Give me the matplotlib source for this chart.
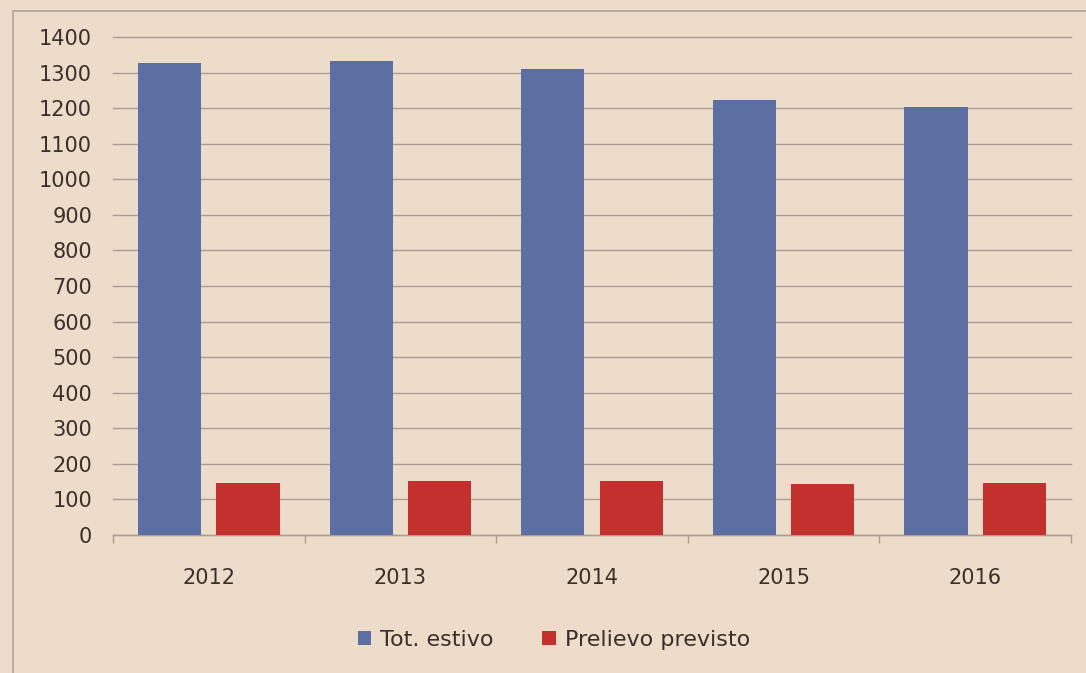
import numpy as np
import matplotlib.pyplot as plt
from matplotlib.patches import Rectangle

# Data
anni = ['2012', '2013', '2014', '2015', '2016']
tot_estivo = [1327, 1332, 1310, 1223, 1203]
prelievo_previsto = [146, 152, 152, 143, 145]

bg = '#ecdcc9'
blu = '#5b6fa2'
rosso = '#c3302d'
testo = '#3b2f2b'
griglia = '#ab9c92'

fig = plt.figure(figsize=(10.86, 6.73), dpi=100, facecolor=bg)
ax = fig.add_axes([113 / 1086, 1 - 535 / 673, (1071 - 113) / 1086, (535 - 37) / 673])
ax.set_facecolor(bg)

# chart border
fig.patches.append(Rectangle((13 / 1086, -0.1), 1.2, 1 - 11 / 673 + 0.1,
                             transform=fig.transFigure, fill=False,
                             edgecolor='#b0a49c', linewidth=1.2))

x = np.arange(len(anni))
w = 0.33
ax.bar(x - 0.205, tot_estivo, w, color=blu, label='Tot. estivo', zorder=3)
ax.bar(x + 0.205, prelievo_previsto, w, color=rosso, label='Prelievo previsto', zorder=3)

ax.set_xlim(-0.5, len(anni) - 0.5)
ax.set_ylim(0, 1400)
ax.set_yticks(range(0, 1401, 100))
ax.yaxis.grid(True, color=griglia, linewidth=1.0)
for gl in ax.get_ygridlines():
    gl.set_clip_on(False)
ax.set_axisbelow(True)

for s in ['top', 'right', 'left']:
    ax.spines[s].set_visible(False)
ax.spines['bottom'].set_color(griglia)
ax.spines['bottom'].set_linewidth(1.0)

ax.set_xticks(x)
ax.set_xticklabels(anni)
ax.set_xticks(np.arange(-0.5, len(anni)), minor=True)
ax.tick_params(axis='x', which='major', length=0, pad=24, labelsize=15, labelcolor=testo)
ax.tick_params(axis='x', which='minor', length=6, color=griglia, width=1.0)
ax.tick_params(axis='y', length=0, pad=15, labelsize=15, labelcolor=testo)

fig.legend(loc='center', bbox_to_anchor=(0.51, 1 - 640 / 673), ncol=2, frameon=False,
           fontsize=16, labelcolor=testo, handlelength=0.6, handleheight=0.6,
           handletextpad=0.4, columnspacing=2.2)

fig.savefig('out.png', dpi=100, facecolor=bg)
